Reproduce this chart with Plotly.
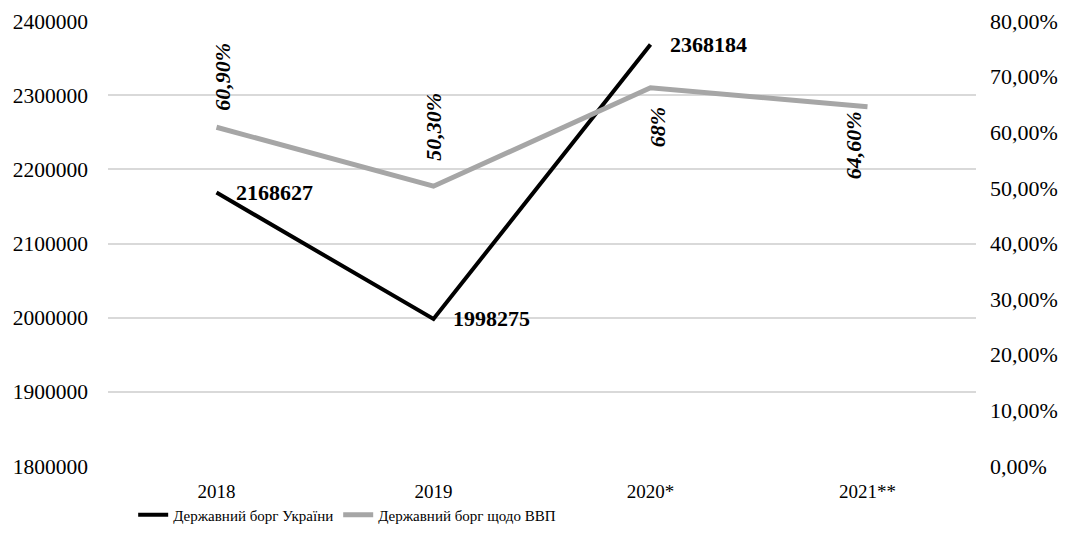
import plotly.graph_objects as go

years = ["2018", "2019", "2020*", "2021**"]
debt = [2168627, 1998275, 2368184, None]
debt_gdp = [0.609, 0.503, 0.68, 0.646]
debt_labels = ["2168627", "1998275", "2368184", None]
gdp_labels = ["60,90%", "50,30%", "68%", "64,60%"]
left_ticks = [1800000, 1900000, 2000000, 2100000, 2200000, 2300000, 2400000]
right_ticks = [0, 0.1, 0.2, 0.3, 0.4, 0.5, 0.6, 0.7, 0.8]

FONT = "Liberation Serif"

fig = go.Figure()
fig.add_trace(go.Scatter(x=years, y=debt, mode="lines", name="Державний борг України",
                         line=dict(color="#000000", width=4), yaxis="y"))
fig.add_trace(go.Scatter(x=years, y=debt_gdp, mode="lines", name="Державний борг щодо ВВП",
                         line=dict(color="#A6A6A6", width=5), yaxis="y2"))

anns = []
for i, (v, t) in enumerate(zip(debt, debt_labels)):
    if v is None:
        continue
    anns.append(dict(x=i, y=v, xref="x", yref="y", text="<b>%s</b>" % t, showarrow=False,
                     xanchor="left", yanchor="middle", xshift=17, yshift=0,
                     font=dict(family=FONT, size=22, color="#000")))
shifts = [(6, 50), (0, 59), (7, -40), (-14, -39)]
for i, ((v, t), (dx, dy)) in enumerate(zip(zip(debt_gdp, gdp_labels), shifts)):
    anns.append(dict(x=i, y=v, xref="x", yref="y2", text="<b><i>%s</i></b>" % t, showarrow=False,
                     textangle=-90, xanchor="center", yanchor="middle", xshift=dx, yshift=dy,
                     font=dict(family=FONT, size=22, color="#000")))

fig.update_layout(
    template="none",
    width=1066, height=545,
    margin=dict(l=100, r=98, t=13, b=87),
    paper_bgcolor="white", plot_bgcolor="white",
    separators=", ",
    font=dict(family=FONT, size=20, color="#000"),
    showlegend=True,
    legend=dict(orientation="h", x=0.029, xanchor="left", y=-0.11, yanchor="middle",
                bgcolor="rgba(0,0,0,0)", font=dict(family=FONT, size=15), tracegroupgap=0),
    xaxis=dict(type="category", showgrid=False, zeroline=False, showline=False, automargin=False,
               tickfont=dict(family=FONT, size=19), ticks="outside", ticklen=8,
               tickcolor="rgba(0,0,0,0)", range=[-0.5, 3.5]),
    yaxis=dict(range=[1800000, 2400000], tickvals=left_ticks, tickformat="d", automargin=False,
               showgrid=True, gridcolor="#D9D9D9", gridwidth=1.5, zeroline=False,
               showline=False, ticks="", tickfont=dict(family=FONT, size=21.5), ticklabelstandoff=19),
    yaxis2=dict(range=[0, 0.8], tickvals=right_ticks, tickformat=".2%", overlaying="y",
                side="right", showgrid=False, zeroline=False, showline=False, automargin=False,
                ticks="", tickfont=dict(family=FONT, size=22), ticklabelstandoff=13),
    annotations=anns,
)

fig.write_html("out.html")
